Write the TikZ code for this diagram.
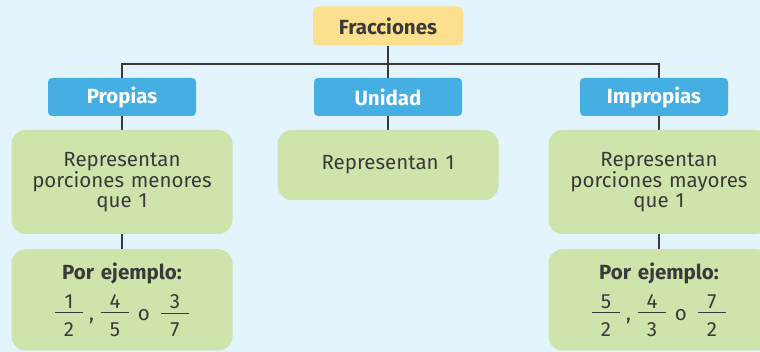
\documentclass[tikz,border=0pt]{standalone}
\usepackage{fontspec}
\setmainfont{Fira Sans}
\usetikzlibrary{backgrounds}
\definecolor{sky}{HTML}{E3F4FC}
\definecolor{sand}{HTML}{FDE08E}
\definecolor{azure}{HTML}{45AEE2}
\definecolor{leaf}{HTML}{CFE4AA}
\definecolor{ink}{HTML}{3A3A3A}
\newcommand\fracpart[2]{$\vcenter{\hbox to 28pt{\hss#1\hss}\kern4pt
    \hrule height 1pt\kern9pt\hbox to 28pt{\hss#2\hss}}$}
\tikzset{
  titlebox/.style={fill=sand, rounded corners=5pt, minimum width=150pt, minimum height=39pt,
    text=ink, font=\fontsize{20.5}{22}\selectfont\bfseries},
  kindbox/.style={fill=azure, rounded corners=4pt, minimum width=148pt, minimum height=38pt,
    text=white, font=\fontsize{20.5}{22}\selectfont\bfseries},
  descbox/.style={fill=leaf, rounded corners=14pt, minimum width=221pt, text width=210pt,
    align=center, text=ink, font=\fontsize{20.5}{20}\selectfont},
  link/.style={draw=ink, line width=1.4pt}
}

\begin{document}
\begin{tikzpicture}[x=1pt, y=-1pt]
        \clip (0,0) rectangle (760,352);
        \useasboundingbox (0,0) rectangle (760,352);

        \node[titlebox] (frac) at (388,26) {Fracciones};

        \node[kindbox] (prop) at (122,97) {Propias};
        \node[kindbox] (unid) at (388,97) {Unidad};
        \node[kindbox] (impr) at (654,97) {Impropias};

        \node[descbox, minimum height=104pt] (propdesc) at (122,182)
            {Representan\\porciones menores\\que 1};
        \node[descbox, minimum height=70pt] (uniddesc) at (388,165)
            {Representan 1};
        \node[descbox, minimum height=104pt] (imprdesc) at (659,182)
            {Representan\\porciones mayores\\que 1};

        \node[descbox, anchor=north, inner ysep=14pt] (propex) at (122,249)
            {\textbf{Por ejemplo:}\\[9pt]
             \fracpart{1}{2}\hspace{6pt},\hspace{7pt}\fracpart{4}{5}\hspace{9pt}o\hspace{11pt}\fracpart{3}{7}};
        \node[descbox, anchor=north, inner ysep=14pt] (imprex) at (659,249)
            {\textbf{Por ejemplo:}\\[9pt]
             \fracpart{5}{2}\hspace{6pt},\hspace{7pt}\fracpart{4}{3}\hspace{9pt}o\hspace{11pt}\fracpart{7}{2}};

        \coordinate (split) at (388,64);

        \begin{scope}[on background layer]
            \fill[sky] (0,0) rectangle (760,352);
            \draw[link] (frac.south) -- (uniddesc.north);
            \draw[link] (propdesc.north) -- (propdesc.north |- split)
                -- (imprdesc.north |- split) -- (imprdesc.north);
            \draw[link] (propdesc.south) -- (propex.north);
            \draw[link] (imprdesc.south) -- (imprex.north);
        \end{scope}
    \end{tikzpicture}
\end{document}
